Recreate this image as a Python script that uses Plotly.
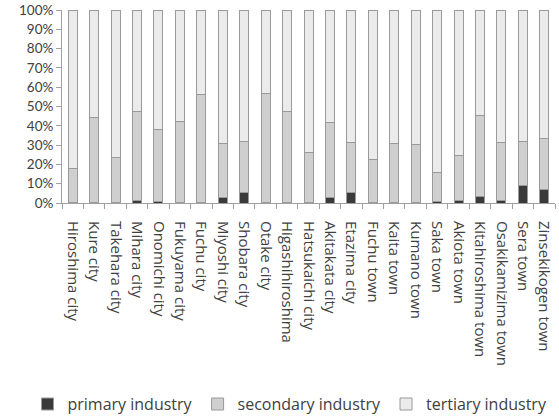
import plotly.graph_objects as go

cities = ["Hiroshima city", "Kure city", "Takehara city", "Mihara city", "Onomichi city",
          "Fukuyama city", "Fuchu city", "Miyoshi city", "Shobara city", "Otake city",
          "Higashihiroshima", "Hatsukaichi city", "Akitakata city", "Etazima city",
          "Fuchu town", "Kaita town", "Kumano town", "Saka town", "Akiota town",
          "Kitahiroshima town", "Osakikamizima town", "Sera town", "Zinsekikogen town"]

primary = [0.2, 0.4, 0.5, 1.5, 1.0, 0.3, 0.2, 2.6, 5.7, 0.5, 0.5, 0.5, 3.1, 5.7,
           0.2, 0.2, 0.2, 1.0, 1.5, 3.6, 1.5, 9.0, 6.9]
secondary = [17.5, 43.7, 23.3, 45.9, 37.1, 42.1, 55.8, 28.2, 26.2, 56.0, 46.9, 25.9, 38.8, 25.7,
             22.6, 30.6, 30.1, 14.8, 23.0, 41.6, 29.9, 23.0, 26.7]
tertiary = [round(100 - p - s, 1) for p, s in zip(primary, secondary)]

text_color = "#404040"
edge = "#9a9a9a"

fig = go.Figure()
fig.add_bar(x=cities, y=primary, name="primary industry",
            marker=dict(color="#3a3a3a", line=dict(color=edge, width=1)))
fig.add_bar(x=cities, y=secondary, name="secondary industry",
            marker=dict(color="#cfcfcf", line=dict(color=edge, width=1)))
fig.add_bar(x=cities, y=tertiary, name="tertiary industry",
            marker=dict(color="#ebebeb", line=dict(color=edge, width=1)))

fig.update_layout(
    barmode="stack",
    bargap=0.58,
    width=559, height=417,
    margin=dict(l=62, r=4, t=10, b=214, autoexpand=False),
    paper_bgcolor="white", plot_bgcolor="white",
    font=dict(family="Lato, 'Open Sans', sans-serif", color=text_color, size=13),
    showlegend=True,
    legend=dict(orientation="h", x=-0.07, xanchor="left",
                y=-1.042, yanchor="middle",
                font=dict(size=16, color=text_color, family="'Open Sans', sans-serif"),
                itemwidth=30, tracegroupgap=0,
                traceorder="normal"),
)
fig.update_xaxes(
    tickangle=90, tickfont=dict(size=15, family="'Open Sans', sans-serif"),
    ticklabelstandoff=14, automargin=False,
    showline=True, linecolor="#a0a0a0", linewidth=1,
    ticks="outside", tickson="boundaries", ticklen=5, tickcolor="#a0a0a0",
    showgrid=False,
)
fig.update_yaxes(
    range=[0, 100], dtick=10, ticksuffix="%", tickfont=dict(size=13.5),
    automargin=False,
    showline=True, linecolor="#a0a0a0", linewidth=1,
    ticks="outside", ticklen=5, tickcolor="#a0a0a0",
    showgrid=False, zeroline=False,
)

fig.write_html("out.html")
